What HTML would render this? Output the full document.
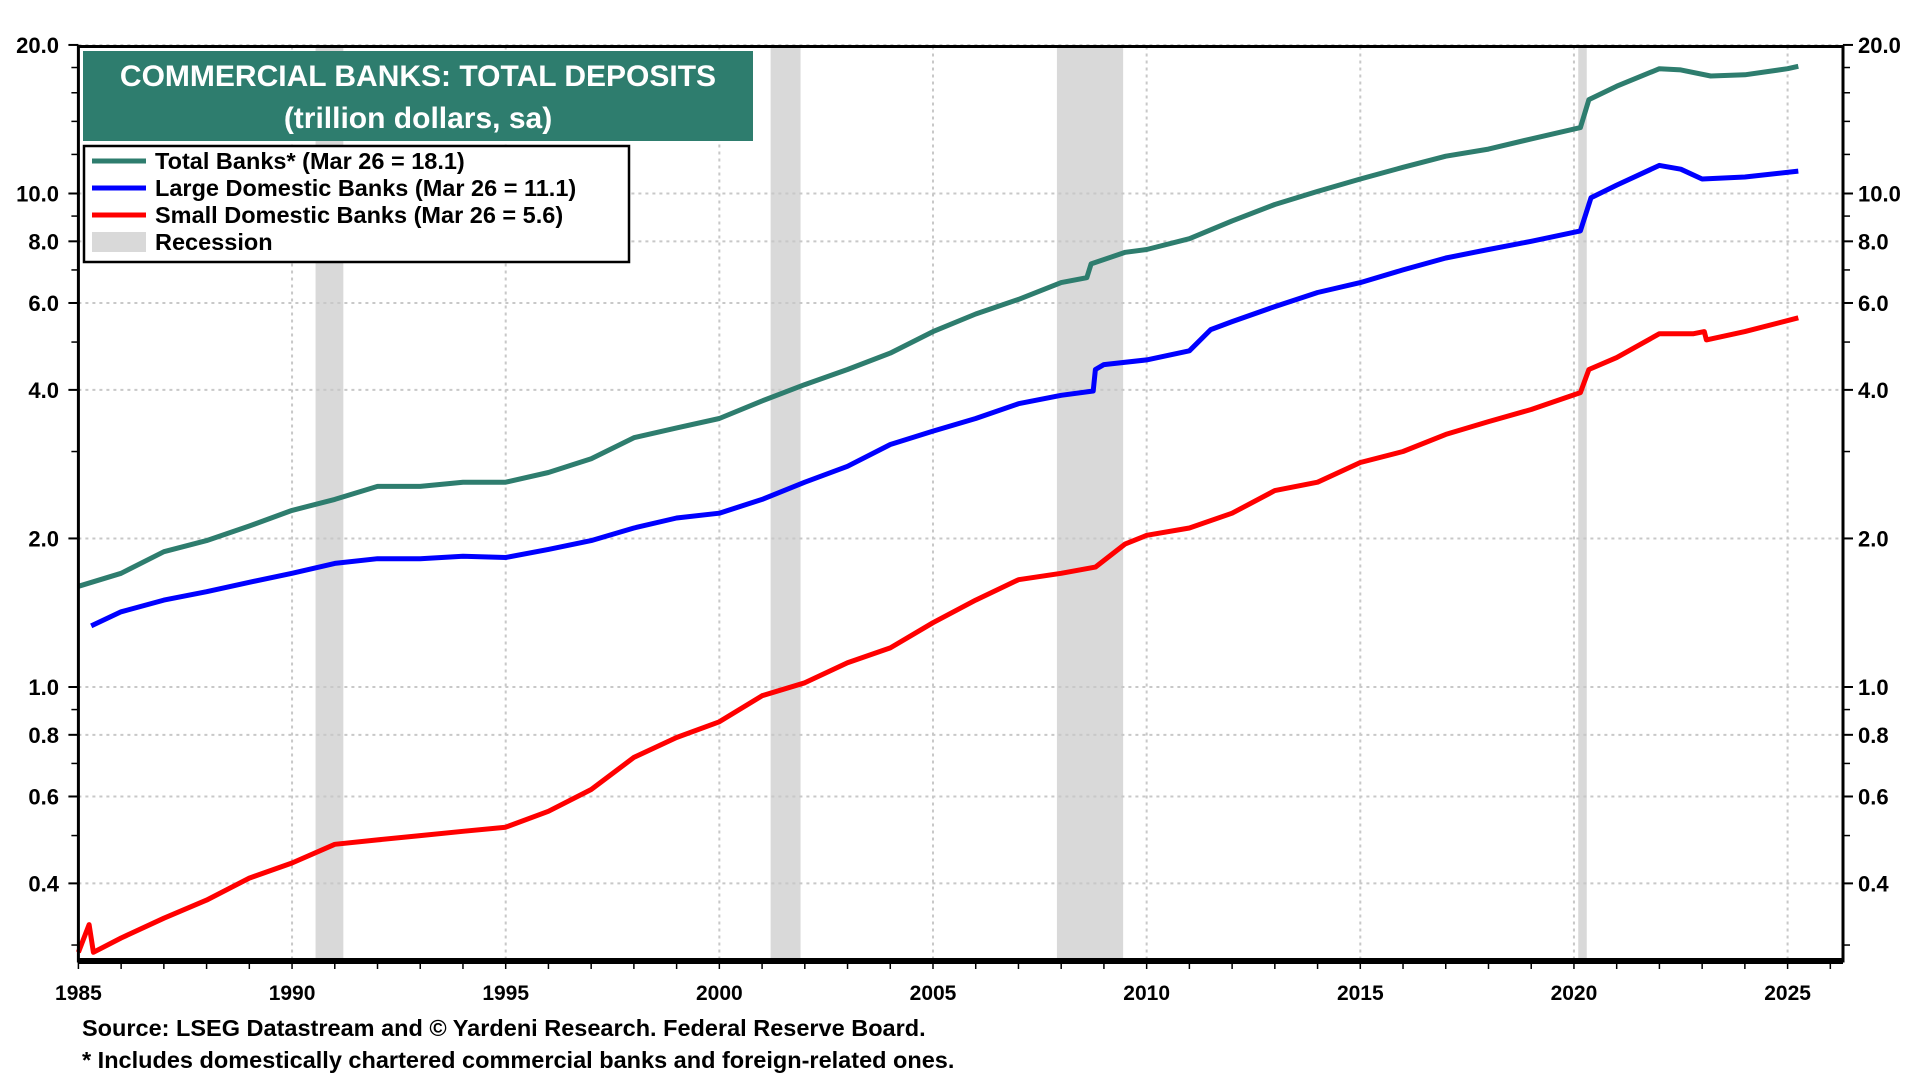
<!DOCTYPE html>
<html><head><meta charset="utf-8"><style>
body{margin:0;background:#fff;width:1920px;height:1080px;overflow:hidden;font-family:"Liberation Sans",Arial,sans-serif}
svg text{font-family:"Liberation Sans",Arial,sans-serif;font-weight:bold}
</style></head><body>
<svg id="chart" width="1920" height="1080" xmlns="http://www.w3.org/2000/svg"></svg>
<script>
const yTicks=[0.4,0.6,0.8,1.0,2.0,4.0,6.0,8.0,10.0,20.0];
const xTicks=[1985,1990,1995,2000,2005,2010,2015,2020,2025];
const recessions=[[1990.55,1991.2],[2001.2,2001.9],[2007.9,2009.45],[2020.1,2020.3]];
const totalYears=[1985,1986,1987,1988,1989,1990,1991,1992,1993,1994,1995,1996,1997,1998,1999,2000,2001,2002,2003,2004,2005,2006,2007,2008,2008.6,2008.7,2009.5,2010,2011,2012,2013,2014,2015,2016,2017,2018,2019,2020.15,2020.35,2021,2022,2022.5,2023.2,2024,2025,2025.25];
const totalVals=[1.6,1.7,1.88,1.98,2.12,2.28,2.4,2.55,2.55,2.6,2.6,2.72,2.9,3.2,3.35,3.5,3.8,4.1,4.4,4.75,5.25,5.7,6.1,6.6,6.75,7.2,7.6,7.7,8.1,8.8,9.5,10.1,10.7,11.3,11.9,12.3,12.9,13.6,15.5,16.5,17.9,17.8,17.3,17.4,17.9,18.1];
const largeYears=[1985.3,1986,1987,1988,1989,1990,1991,1992,1993,1994,1995,1996,1997,1998,1999,2000,2001,2002,2003,2004,2005,2006,2007,2008,2008.75,2008.8,2009,2010,2011,2011.5,2012,2013,2014,2015,2016,2017,2018,2019,2020.15,2020.4,2021,2022,2022.5,2023,2024,2025.25];
const largeVals=[1.33,1.42,1.5,1.56,1.63,1.7,1.78,1.82,1.82,1.84,1.83,1.9,1.98,2.1,2.2,2.25,2.4,2.6,2.8,3.1,3.3,3.5,3.75,3.9,3.98,4.4,4.5,4.6,4.8,5.3,5.5,5.9,6.3,6.6,7.0,7.4,7.7,8.0,8.4,9.8,10.4,11.4,11.2,10.7,10.8,11.1];
const smallYears=[1985,1985.25,1985.35,1986,1987,1988,1989,1990,1991,1992,1993,1994,1995,1996,1997,1998,1999,2000,2001,2002,2003,2004,2005,2006,2007,2008,2008.8,2009.5,2010,2011,2012,2013,2014,2015,2016,2017,2018,2019,2020.15,2020.35,2021,2022,2022.8,2023.05,2023.1,2024,2025.25];
const smallVals=[0.29,0.33,0.29,0.31,0.34,0.37,0.41,0.44,0.48,0.49,0.5,0.51,0.52,0.56,0.62,0.72,0.79,0.85,0.96,1.02,1.12,1.2,1.35,1.5,1.65,1.7,1.75,1.95,2.03,2.1,2.25,2.5,2.6,2.85,3.0,3.25,3.45,3.65,3.95,4.4,4.65,5.2,5.2,5.25,5.05,5.25,5.6];

const L=78.4,R=1843,T=46.5,B=961;
const X=y=>L+(y-1985)*42.73;
const Y=v=>687-Math.log10(v)*493.5;
const svg=document.getElementById('chart');
const NS='http://www.w3.org/2000/svg';
function mk(tag,attrs,parent){const e=document.createElementNS(NS,tag);for(const k in attrs)e.setAttribute(k,attrs[k]);(parent||svg).appendChild(e);return e;}

recessions.forEach(r=>{const e=mk('rect',{x:X(r[0]),y:T,width:X(r[1])-X(r[0]),height:B-T,fill:'#d9d9d9'});

});
yTicks.forEach(v=>{const e=mk('line',{x1:L,x2:R,y1:Y(v),y2:Y(v),stroke:'#c8c8c8','stroke-width':2,'stroke-dasharray':'3 4'});


const lt=mk('text',{x:59,y:Y(v)+8,'text-anchor':'end','font-size':22});lt.textContent=v.toFixed(1);


const rt=mk('text',{x:1858,y:Y(v)+8,'font-size':22});rt.textContent=v.toFixed(1);

});
xTicks.forEach(yr=>{if(yr>1985){const e=mk('line',{x1:X(yr),x2:X(yr),y1:T,y2:B,stroke:'#c8c8c8','stroke-width':2,'stroke-dasharray':'3 4'});

}
const t=mk('text',{x:X(yr),y:1000,'text-anchor':'middle','font-size':21});t.textContent=yr;

});
for(let yr=1985;yr<=2026;yr++){mk('line',{x1:X(yr),x2:X(yr),y1:B,y2:B+8,stroke:'#000','stroke-width':1.5});}
[0.3,0.5,0.7,0.9,3,5,7,9,12,14,16,18].forEach(v=>{mk('line',{x1:L-7,x2:L,y1:Y(v),y2:Y(v),stroke:'#000','stroke-width':1.5});mk('line',{x1:R,x2:R+7,y1:Y(v),y2:Y(v),stroke:'#000','stroke-width':1.5});});
yTicks.forEach(v=>{mk('line',{x1:L-10,x2:L,y1:Y(v),y2:Y(v),stroke:'#000','stroke-width':2});mk('line',{x1:R,x2:R+10,y1:Y(v),y2:Y(v),stroke:'#000','stroke-width':2});});

function series(xs,vs,color,name){const d=xs.map((x,i)=>(i?'L':'M')+X(x).toFixed(1)+','+Y(vs[i]).toFixed(1)).join(' ');
const p=mk('path',{d:d,fill:'none',stroke:color,'stroke-width':5,'stroke-linejoin':'round'});

}
series(totalYears,totalVals,'#2e7d6e','total-banks-line');
series(largeYears,largeVals,'#0000ff','large-domestic-banks-line');
series(smallYears,smallVals,'#ff0000','small-domestic-banks-line');

const frame=mk('rect',{x:L,y:T,width:R-L,height:B-T,fill:'none',stroke:'#000','stroke-width':3});


mk('line',{x1:L,x2:R,y1:B,y2:B,stroke:'#000','stroke-width':6});

const tb=mk('rect',{x:83,y:51,width:670,height:90,fill:'#2e7d6e'});


const t1=mk('text',{x:418,y:86,'text-anchor':'middle','font-size':30,fill:'#fff'});t1.textContent='COMMERCIAL BANKS: TOTAL DEPOSITS';


const t2=mk('text',{x:418,y:128,'text-anchor':'middle','font-size':30,fill:'#fff'});t2.textContent='(trillion dollars, sa)';



const lg=mk('rect',{x:84,y:146,width:545,height:116,fill:'#fff',stroke:'#000','stroke-width':2.5});


const items=[['#2e7d6e','Total Banks* (Mar 26 = 18.1)'],['#0000ff','Large Domestic Banks (Mar 26 = 11.1)'],['#ff0000','Small Domestic Banks (Mar 26 = 5.6)'],['#d9d9d9','Recession']];
items.forEach((it,i)=>{const y=161+i*27;
if(i<3)mk('rect',{x:92,y:y-2.5,width:54,height:5,fill:it[0]});else mk('rect',{x:92,y:y-10,width:54,height:20,fill:it[0]});
const t=mk('text',{x:155,y:y+8,'font-size':23.5});t.textContent=it[1];

});

const s1=mk('text',{x:82,y:1036,'font-size':23.5});s1.textContent='Source: LSEG Datastream and \u00A9 Yardeni Research. Federal Reserve Board.';


const s2=mk('text',{x:82,y:1068,'font-size':23.5});s2.textContent='* Includes domestically chartered commercial banks and foreign-related ones.';


</script>
</body></html>
